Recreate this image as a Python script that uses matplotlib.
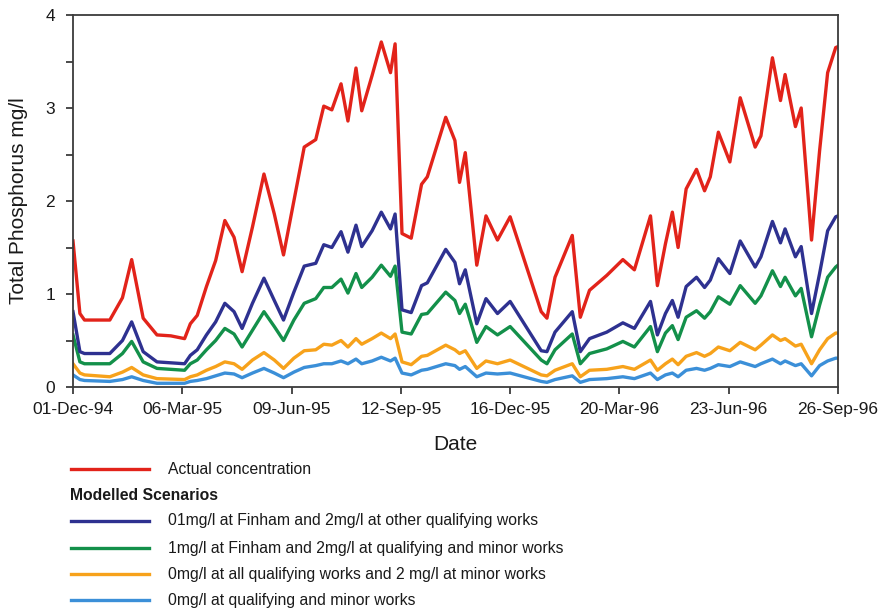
import numpy as np
import matplotlib.pyplot as plt
import matplotlib.dates as mdates
from matplotlib.lines import Line2D

# sampling days counted from 01-Dec-1994
start = np.datetime64('1994-12-01')
end = np.datetime64('1996-09-26')
sample_day = [0, 6, 10, 32, 43, 51, 61, 73, 85, 97,
              102, 108, 116, 124, 132, 140, 147, 156, 166, 175,
              183, 192, 201, 211, 218, 225, 233, 239, 246, 251,
              260, 268, 276, 280, 286, 294, 303, 308, 324, 332,
              336, 341, 351, 359, 369, 380, 407, 412, 419, 434,
              441, 449, 464, 478, 488, 502, 508, 515, 521, 526,
              533, 542, 549, 554, 561, 571, 580, 593, 598, 608,
              615, 619, 628, 633, 642, 649, 656, 663, 665]

actual = [1.57, 0.79, 0.72, 0.72, 0.96, 1.37, 0.74, 0.56, 0.55, 0.52,
          0.68, 0.77, 1.08, 1.36, 1.79, 1.61, 1.24, 1.72, 2.29, 1.86,
          1.42, 2.00, 2.58, 2.66, 3.02, 2.98, 3.26, 2.86, 3.43, 2.97,
          3.35, 3.71, 3.38, 3.69, 1.65, 1.60, 2.18, 2.26, 2.90, 2.65,
          2.20, 2.52, 1.31, 1.84, 1.58, 1.83, 0.81, 0.74, 1.18, 1.63,
          0.75, 1.04, 1.20, 1.37, 1.26, 1.84, 1.09, 1.54, 1.88, 1.50,
          2.13, 2.34, 2.11, 2.26, 2.74, 2.42, 3.11, 2.58, 2.70, 3.54,
          3.08, 3.36, 2.80, 3.00, 1.58, 2.54, 3.38, 3.65, 3.66]

finham_01 = [0.81, 0.38, 0.36, 0.36, 0.50, 0.70, 0.38, 0.27, 0.26, 0.25,
             0.34, 0.40, 0.56, 0.70, 0.90, 0.81, 0.63, 0.90, 1.17, 0.93,
             0.72, 1.02, 1.30, 1.33, 1.53, 1.50, 1.67, 1.45, 1.74, 1.51,
             1.68, 1.88, 1.70, 1.86, 0.83, 0.80, 1.09, 1.12, 1.48, 1.34,
             1.11, 1.26, 0.68, 0.95, 0.79, 0.92, 0.39, 0.38, 0.59, 0.81,
             0.38, 0.52, 0.59, 0.69, 0.63, 0.92, 0.56, 0.79, 0.93, 0.75,
             1.08, 1.18, 1.07, 1.15, 1.38, 1.22, 1.57, 1.29, 1.40, 1.78,
             1.55, 1.70, 1.40, 1.51, 0.79, 1.22, 1.68, 1.83, 1.84]

finham_1 = [0.56, 0.27, 0.25, 0.25, 0.36, 0.49, 0.27, 0.20, 0.19, 0.18,
            0.25, 0.29, 0.40, 0.50, 0.63, 0.57, 0.43, 0.61, 0.81, 0.65,
            0.50, 0.72, 0.90, 0.95, 1.07, 1.07, 1.16, 1.01, 1.22, 1.07,
            1.18, 1.31, 1.19, 1.30, 0.59, 0.57, 0.78, 0.79, 1.02, 0.93,
            0.79, 0.89, 0.48, 0.65, 0.56, 0.65, 0.29, 0.25, 0.40, 0.57,
            0.25, 0.36, 0.41, 0.49, 0.43, 0.65, 0.38, 0.58, 0.66, 0.51,
            0.75, 0.82, 0.74, 0.81, 0.97, 0.89, 1.09, 0.90, 0.98, 1.25,
            1.08, 1.18, 0.98, 1.06, 0.54, 0.88, 1.18, 1.29, 1.31]

qualifying_0 = [0.25, 0.15, 0.13, 0.11, 0.16, 0.21, 0.13, 0.09, 0.085, 0.08,
                0.11, 0.13, 0.18, 0.22, 0.27, 0.25, 0.19, 0.29, 0.37, 0.29,
                0.20, 0.31, 0.39, 0.40, 0.46, 0.45, 0.50, 0.43, 0.52, 0.46,
                0.52, 0.58, 0.52, 0.57, 0.27, 0.24, 0.33, 0.34, 0.45, 0.40,
                0.36, 0.39, 0.20, 0.28, 0.25, 0.29, 0.13, 0.12, 0.18, 0.25,
                0.11, 0.18, 0.19, 0.22, 0.19, 0.29, 0.18, 0.25, 0.30, 0.24,
                0.33, 0.37, 0.33, 0.36, 0.43, 0.39, 0.48, 0.40, 0.45, 0.56,
                0.50, 0.52, 0.44, 0.46, 0.25, 0.40, 0.52, 0.58, 0.58]

all_0 = [0.13, 0.08, 0.07, 0.06, 0.08, 0.11, 0.07, 0.04, 0.04, 0.04,
         0.06, 0.07, 0.09, 0.12, 0.15, 0.14, 0.10, 0.15, 0.20, 0.15,
         0.10, 0.16, 0.21, 0.23, 0.25, 0.25, 0.28, 0.25, 0.30, 0.25,
         0.28, 0.32, 0.28, 0.31, 0.15, 0.13, 0.18, 0.19, 0.25, 0.23,
         0.19, 0.22, 0.11, 0.15, 0.14, 0.15, 0.06, 0.05, 0.08, 0.12,
         0.05, 0.08, 0.09, 0.11, 0.09, 0.15, 0.08, 0.13, 0.15, 0.11,
         0.18, 0.20, 0.18, 0.20, 0.24, 0.22, 0.27, 0.22, 0.25, 0.30,
         0.25, 0.28, 0.23, 0.25, 0.12, 0.23, 0.28, 0.31, 0.31]

labels = ['Actual concentration',
          '01mg/l at Finham and 2mg/l at other qualifying works',
          '1mg/l at Finham and 2mg/l at qualifying and minor works',
          '0mg/l at all qualifying works and 2 mg/l at minor works',
          '0mg/l at qualifying and minor works']
colors = ['#e2231a', '#2e3190', '#13904a', '#f7a21b', '#3b8fd8']
series = [actual, finham_01, finham_1, qualifying_0, all_0]

plt.rcParams['font.family'] = ['Liberation Sans', 'DejaVu Sans']
W, H = 882, 610
fig = plt.figure(figsize=(W / 100, H / 100), dpi=100)
ax = fig.add_axes([73 / W, 1 - 387 / H, (838 - 73) / W, (387 - 15) / H])

dates = start + np.array(sample_day).astype('timedelta64[D]')
# draw the lowest scenario first so the actual concentration sits on top
for vals, c in reversed(list(zip(series, colors))):
    ax.plot(dates, vals, color=c, lw=2.4)

ax.set_xlim(start, end)
ax.set_ylim(0, 4)
ax.set_xticks(start + np.arange(8) * np.timedelta64(95, 'D'))
ax.xaxis.set_major_formatter(mdates.DateFormatter('%d-%b-%y'))
ax.set_yticks([0, 1, 2, 3, 4])
ax.set_yticks(np.arange(0.5, 4, 1.0), minor=True)

for s in ax.spines.values():
    s.set_color('#3c3c3c')
    s.set_linewidth(1.3)
ax.tick_params(which='both', direction='out', length=5, width=1.3,
               color='#3c3c3c', labelsize=12.5, labelcolor='#1a1a1a')
ax.tick_params(axis='x', pad=5.5)
ax.tick_params(axis='y', pad=8)

ax.set_xlabel('Date', fontsize=15, color='#1a1a1a', labelpad=13)
ax.set_ylabel('Total Phosphorus mg/l', fontsize=15, color='#1a1a1a')
ax.yaxis.set_label_coords(-0.059, 0.5)


def fx(x):
    return x / W


def fy(y):
    return 1 - y / H


# key below the plot
rows = [469, 521, 548, 574, 600]
for y, lab, c in zip(rows, labels, colors):
    fig.add_artist(Line2D([fx(71), fx(149)], [fy(y), fy(y)], color=c, lw=2.4))
    fig.text(fx(168), fy(y), lab, fontsize=11.3, color='#1a1a1a',
             va='center', ha='left')
fig.text(fx(70), fy(495), 'Modelled Scenarios', fontsize=11.3,
         fontweight='bold', color='#1a1a1a', va='center', ha='left')

fig.savefig('out.png', dpi=100)
